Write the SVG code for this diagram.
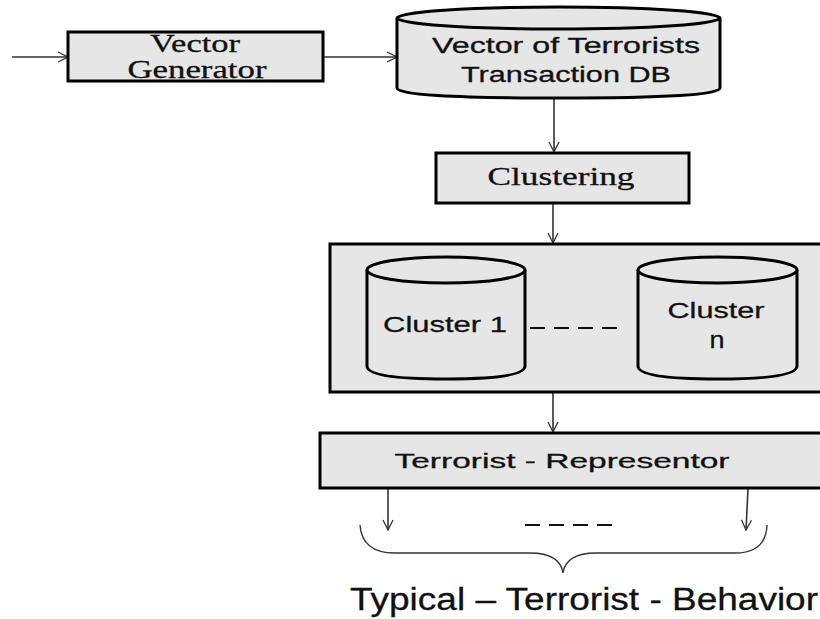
<svg xmlns="http://www.w3.org/2000/svg" width="820" height="619" viewBox="0 0 820 619">
<defs>
<marker id="arr" viewBox="0 0 12 12" refX="11" refY="6" markerWidth="12" markerHeight="12" markerUnits="userSpaceOnUse" orient="auto">
<path d="M1,1 L11,6 L1,11" fill="none" stroke="#333" stroke-width="1.3"/>
</marker>
<style>
.box{fill:#e6e6e6;stroke:#000;stroke-width:3}
.cyl{fill:#e6e6e6;stroke:#000;stroke-width:3}
.con{fill:none;stroke:#333;stroke-width:1.6}
.serif{font-family:"Liberation Serif","Times New Roman",serif;fill:#111;stroke:#111;stroke-width:0.3}
.sans{font-family:"Liberation Sans",Arial,sans-serif;fill:#111;stroke:#111;stroke-width:0.3}
.dash{stroke:#111;stroke-width:2;stroke-dasharray:15,9;fill:none}
</style>
</defs>
<rect width="820" height="619" fill="#fff"/>

<g id="connectors">
<line class="con" x1="12" y1="57" x2="68" y2="57" marker-end="url(#arr)"/>
<line class="con" x1="323" y1="57" x2="397" y2="57" marker-end="url(#arr)"/>
<line class="con" x1="554" y1="98" x2="554" y2="152" marker-end="url(#arr)"/>
<line class="con" x1="553" y1="203" x2="553" y2="243" marker-end="url(#arr)"/>
<line class="con" x1="553" y1="392" x2="553" y2="432" marker-end="url(#arr)"/>
<line class="con" x1="388" y1="489" x2="388" y2="530" marker-end="url(#arr)"/>
<line class="con" x1="748" y1="489" x2="746" y2="530" marker-end="url(#arr)"/>
</g>

<g id="vector-generator">
<rect class="box" x="68" y="32" width="255" height="49"/>
<text class="serif" x="195" y="52" font-size="25" text-anchor="middle" textLength="90" lengthAdjust="spacingAndGlyphs">Vector</text>
<text class="serif" x="197" y="78" font-size="25" text-anchor="middle" textLength="139" lengthAdjust="spacingAndGlyphs">Generator</text>
</g>

<g id="transaction-db">
<path class="cyl" d="M397,18 L397,88 Q397,98 559,98 Q720,98 720,88 L720,18"/>
<ellipse class="cyl" cx="558.5" cy="18" rx="161.5" ry="11"/>
<text class="sans" x="566" y="53" font-size="22" text-anchor="middle" textLength="268" lengthAdjust="spacingAndGlyphs">Vector of Terrorists</text>
<text class="sans" x="566" y="82" font-size="22" text-anchor="middle" textLength="210" lengthAdjust="spacingAndGlyphs">Transaction DB</text>
</g>

<g id="clustering">
<rect class="box" x="436" y="153" width="253" height="50"/>
<text class="serif" x="561" y="185" font-size="25" text-anchor="middle" textLength="147" lengthAdjust="spacingAndGlyphs">Clustering</text>
</g>

<g id="clusters">
<rect class="box" x="330" y="244" width="495" height="148"/>
<g id="cluster-1">
<path class="cyl" d="M367,270 L367,366 Q367,379 446,379 Q525,379 525,366 L525,270"/>
<ellipse class="cyl" cx="446" cy="270" rx="79" ry="13"/>
<text class="sans" x="445" y="332" font-size="22" text-anchor="middle" textLength="124" lengthAdjust="spacingAndGlyphs">Cluster 1</text>
</g>
<line class="dash" x1="530" y1="328" x2="622" y2="328"/>
<g id="cluster-n">
<path class="cyl" d="M638,270 L638,366 Q638,379 717.5,379 Q797,379 797,366 L797,270"/>
<ellipse class="cyl" cx="717.5" cy="270" rx="79.5" ry="13"/>
<text class="sans" x="716" y="318" font-size="22" text-anchor="middle" textLength="97" lengthAdjust="spacingAndGlyphs">Cluster</text>
<text class="sans" x="717" y="348" font-size="23" text-anchor="middle" textLength="15" lengthAdjust="spacingAndGlyphs">n</text>
</g>
</g>

<g id="representor">
<rect class="box" x="320" y="433" width="505" height="55"/>
<text class="sans" x="562" y="468" font-size="21" text-anchor="middle" textLength="335" lengthAdjust="spacingAndGlyphs">Terrorist - Representor</text>
</g>

<g id="behavior">
<line class="dash" x1="525" y1="525" x2="617" y2="525"/>
<path d="M360,525 Q362,553 395,553 L530,553 Q560,553 563,573 Q566,553 596,553 L735,553 Q766,553 767,525" fill="none" stroke="#333" stroke-width="1.4"/>
<text class="sans" x="584" y="610" font-size="31" text-anchor="middle" textLength="468" lengthAdjust="spacingAndGlyphs">Typical – Terrorist - Behavior</text>
</g>
</svg>
